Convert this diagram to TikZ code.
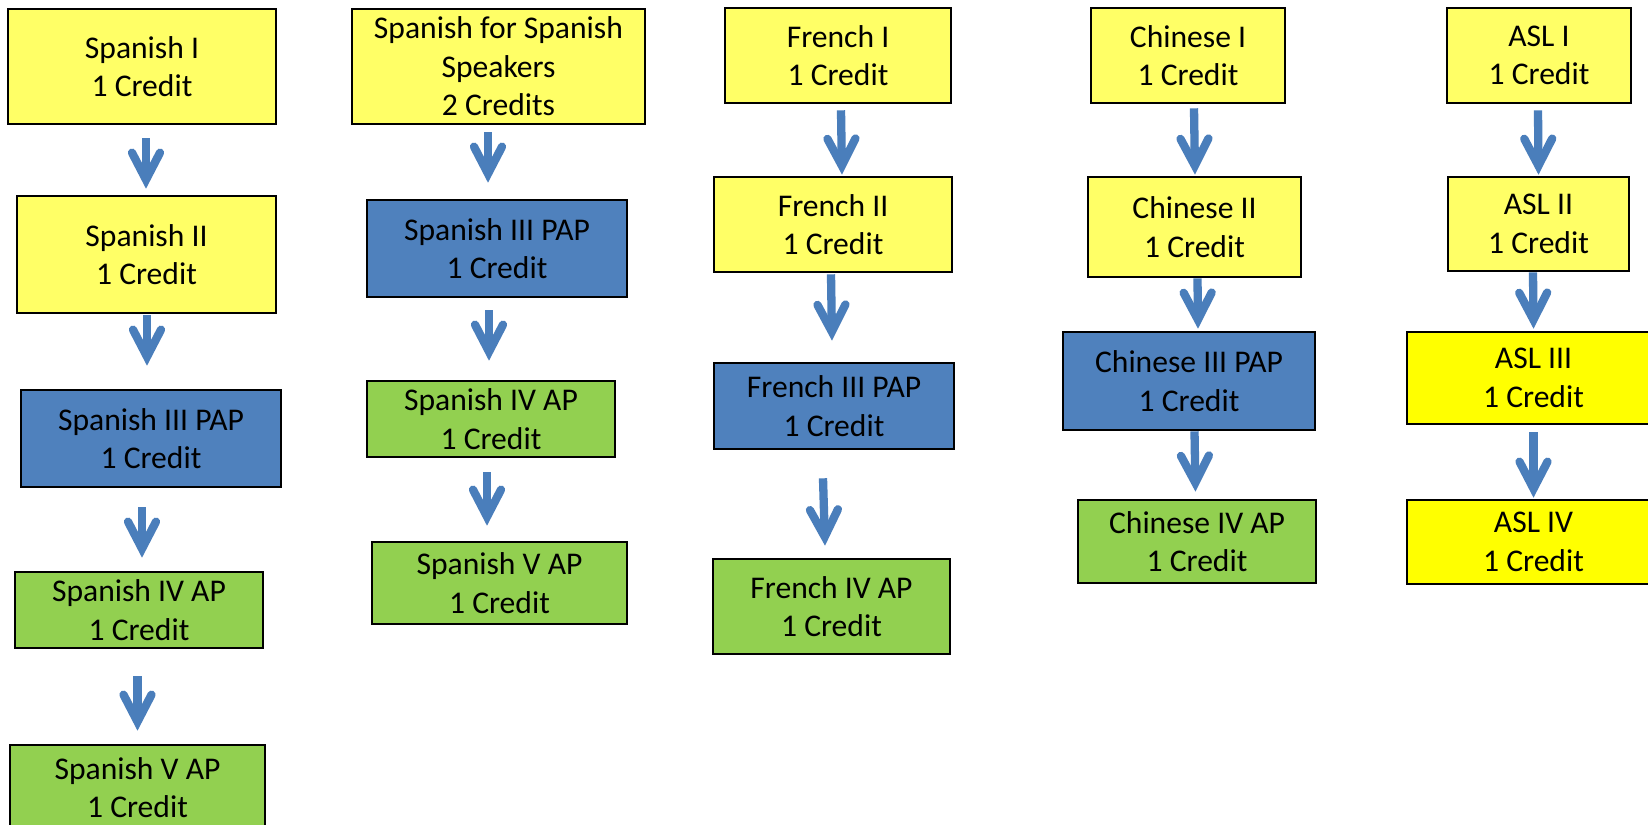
\documentclass[tikz,border=0pt]{standalone}
\usepackage{fontspec}
\setmainfont{Carlito}
\usetikzlibrary{arrows.meta,calc}
\definecolor{ylw}{HTML}{FFFF66}
\definecolor{ylwb}{HTML}{FFFF00}
\definecolor{blu}{HTML}{4F81BD}
\definecolor{grn}{HTML}{92D050}
\definecolor{arrc}{HTML}{4A7EBB}
\newcommand\course[7]{%
  \pgfmathsetmacro\cw{(#4-#2)*0.5}%
  \pgfmathsetmacro\ch{(#5-#3)*0.5}%
  \node[cbox, fill=#6, minimum width=\cw pt, minimum height=\ch pt] (#1) at ({(#2+#4)/2},{(#3+#5)/2}) {#7};}
\newcommand\link[6]{\draw[arr] ([shift={(#3,#4)}]#1.south) -- ([shift={(#5,#6)}]#2.north);}
\begin{document}
\begin{tikzpicture}[x=0.5pt,y=-0.5pt,
  cbox/.style={draw=black, line width=1.3pt, align=center, inner sep=0pt, text=black,
    font=\fontsize{15.8}{19.3}\selectfont},
  arr/.style={draw=arrc, line width=4.15pt,
    -{Straight Barb[length=13.5pt,width=14pt,line cap=round,line join=miter]}}]
\clip (0,0) rectangle (1648,824);
\fill[white] (0,0) rectangle (1648,824);
% Spanish column
\course{sp1}{8}{9}{276}{124}{ylw}{Spanish I\\1 Credit}
\course{sp2}{17}{196}{276}{313}{ylw}{Spanish II\\1 Credit}
\course{sp3}{21}{390}{281}{487}{blu}{Spanish III PAP\\1 Credit}
\course{sp4}{15}{572}{263}{648}{grn}{Spanish IV AP\\1 Credit}
\course{sp5}{10}{745}{265}{830}{grn}{Spanish V AP\\1 Credit}
\link{sp1}{sp2}{4}{13}{-0.5}{-6}
\link{sp2}{sp3}{0.5}{1}{-4}{-23}
\link{sp3}{sp4}{-9}{19}{3}{-13}
\link{sp4}{sp5}{-1.5}{27}{0}{-13}
% Spanish for Spanish Speakers column
\course{ss}{352}{9}{645}{124}{ylw}{Spanish for Spanish\\Speakers\\2 Credits}
\course{ssb}{367}{200}{627}{297}{blu}{Spanish III PAP\\1 Credit}
\course{ssc}{367}{381}{615}{457}{grn}{Spanish IV AP\\1 Credit}
\course{ssd}{372}{542}{627}{624}{grn}{Spanish V AP\\1 Credit}
\link{ss}{ssb}{-10.5}{7}{-9}{-16}
\link{ssb}{ssc}{-8}{12}{-2}{-19}
\link{ssc}{ssd}{-4}{14}{-12.5}{-15}
% French column
\course{fr1}{725}{8}{951}{103}{ylw}{French I\\1 Credit}
\course{fr2}{714}{177}{952}{272}{ylw}{French II\\1 Credit}
\course{fr3}{714}{363}{954}{449}{blu}{French III PAP\\1 Credit}
\course{fr4}{713}{559}{950}{654}{grn}{French IV AP\\1 Credit}
\link{fr1}{fr2}{3}{6}{9}{-1}
\link{fr2}{fr3}{-2}{1}{-2}{-21}
\link{fr3}{fr4}{-11}{28}{-6.5}{-12}
% Chinese column
\course{ch1}{1091}{8}{1285}{103}{ylw}{Chinese I\\1 Credit}
\course{ch2}{1088}{177}{1301}{277}{ylw}{Chinese II\\1 Credit}
\course{ch3}{1063}{332}{1315}{430}{blu}{Chinese III PAP\\1 Credit}
\course{ch4}{1078}{500}{1316}{583}{grn}{Chinese IV AP\\1 Credit}
\link{ch1}{ch2}{6}{4}{0.5}{-1}
\link{ch2}{ch3}{3}{0}{9}{-2}
\link{ch3}{ch4}{5.5}{0}{-1.5}{-7}
% ASL column
\course{asl1}{1447}{8}{1631}{103}{ylw}{ASL I\\1 Credit}
\course{asl2}{1448}{177}{1629}{271}{ylw}{ASL II\\1 Credit}
\course{asl3}{1407}{332}{1660}{424}{ylwb}{ASL III\\1 Credit}
\course{asl4}{1407}{500}{1660}{584}{ylwb}{ASL IV\\1 Credit}
\link{asl1}{asl2}{-1}{6}{0}{-1}
\link{asl2}{asl3}{-5.5}{0}{0}{-2}
\link{asl3}{asl4}{0}{7}{0}{-1}
\end{tikzpicture}
\end{document}
